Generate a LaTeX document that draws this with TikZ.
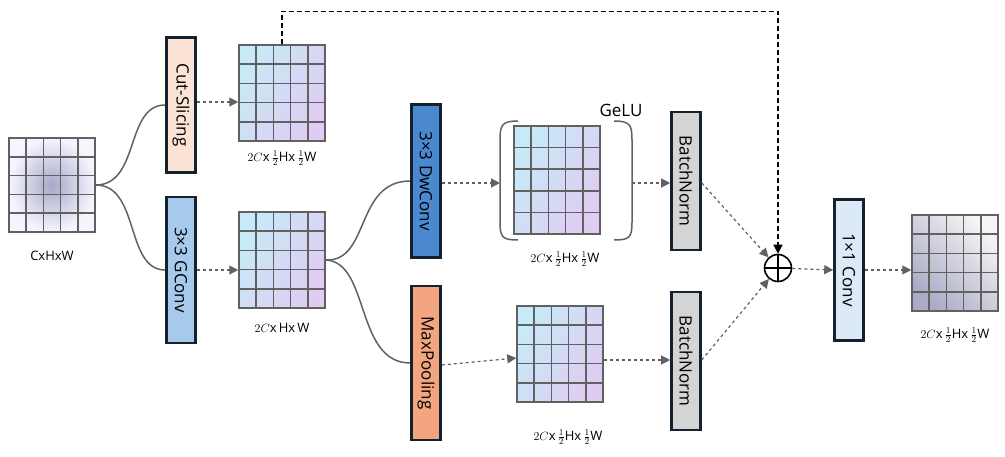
\documentclass[tikz,border=0pt]{standalone}
\usepackage{fontspec}
\setmainfont{Open Sans}
\usetikzlibrary{calc,arrows.meta}
\definecolor{cutc}{HTML}{FBE3D6}
\definecolor{gcc}{HTML}{A6C9EC}
\definecolor{dwc}{HTML}{4A88D0}
\definecolor{mpc}{HTML}{F3A57F}
\definecolor{bnc}{HTML}{D4D4D4}
\definecolor{c1c}{HTML}{DCEAF7}
\definecolor{bord}{HTML}{14212E}
\definecolor{cellA}{HTML}{C6EAF8}
\definecolor{cellB}{HTML}{E0CCF2}
\begin{document}
\begin{tikzpicture}[x=1pt,y=-1pt,
  blk/.style={draw=bord, line width=2.6pt, minimum width=29pt, inner sep=0pt, font=\fontsize{17}{17}\selectfont},
  gridcells/.style={path picture={
     \foreach \i in {1,...,4}{
       \draw[black!62,line width=1.5pt] ($(path picture bounding box.north west)!\i/5!(path picture bounding box.north east)$) -- ($(path picture bounding box.south west)!\i/5!(path picture bounding box.south east)$);
       \draw[black!62,line width=1.5pt] ($(path picture bounding box.north west)!\i/5!(path picture bounding box.south west)$) -- ($(path picture bounding box.north east)!\i/5!(path picture bounding box.south east)$);}}},
  fm/.style={draw=black!62, line width=1.5pt, inner sep=0pt, minimum width=86pt, minimum height=96pt,
     shading=axis, left color=cellA, right color=cellB, shading angle=60, gridcells},
  inp/.style={draw=black!62, line width=1.5pt, inner sep=0pt, minimum width=86pt, minimum height=94pt,
     inner color=blue!25!gray!55, outer color=gray!12!blue!4, gridcells},
  outp/.style={draw=black!62, line width=1.5pt, inner sep=0pt, minimum width=86pt, minimum height=96pt,
     shading=axis, left color=gray!8, right color=blue!20!gray!55, shading angle=-45, gridcells},
  lab/.style={font=\fontsize{13}{13}\selectfont},
  da/.style={draw=black!62, dashed, line width=1.2pt, -{Triangle[length=9pt,width=9pt]}},
  cv/.style={draw=black!62, line width=1.5pt}
]
\useasboundingbox (0,0) rectangle (1005,457);
% feature maps
\node[inp] (in) at (52,185) {};
\node[lab] (inl) at (52,256) {CxHxW};
\node[fm] (g1) at (282,93) {};
\node[lab] (g1l) at (282,158) {$2C$x\,$\frac12$Hx\,$\frac12$W};
\node[fm] (g2) at (282,260) {};
\node[lab] (g2l) at (282,328) {$2C$x\,Hx\,W};
\node[fm, minimum width=86pt, minimum height=108pt] (g3) at (557,180) {};
\node[lab] (g3l) at (565,259) {$2C$x\,$\frac12$Hx\,$\frac12$W};
\node[fm] (g4) at (560,354) {};
\node[lab] (g4l) at (568,437) {$2C$x\,$\frac12$Hx\,$\frac12$W};
\node[outp] (out) at (955,263) {};
\node[lab] (outl) at (955,335) {$2C$x\,$\frac12$Hx\,$\frac12$W};
% GeLU bracket
\draw[black!62,line width=1.5pt] (518,121) .. controls (502,121) and (500,125) .. (500,140) -- (500,222) .. controls (500,237) and (502,240) .. (518,240);
\draw[black!62,line width=1.5pt] (614,121) .. controls (630,121) and (632,125) .. (632,140) -- (632,222) .. controls (632,237) and (630,240) .. (614,240);
\coordinate (bL) at (500,183);
\coordinate (bR) at (632,183);
\node[font=\fontsize{17}{17}\selectfont] (gelu) at (621,110) {GeLU};
% blocks
\node[blk, fill=cutc, minimum height=135pt] (cut) at (181,105) {\rotatebox{-90}{Cut-Slicing}};
\node[blk, fill=gcc, minimum height=146pt] (gc) at (181,270) {\rotatebox{-90}{3×3 GConv}};
\node[blk, fill=dwc, minimum height=153pt] (dw) at (426,181) {\rotatebox{-90}{3×3 DwConv}};
\node[blk, fill=mpc, minimum height=154pt] (mp) at (426,363) {\rotatebox{-90}{MaxPooling}};
\node[blk, fill=bnc, minimum height=138pt] (bn1) at (686,181) {\rotatebox{-90}{BatchNorm}};
\node[blk, fill=bnc, minimum height=138pt] (bn2) at (686,361) {\rotatebox{-90}{BatchNorm}};
\node[blk, fill=c1c, minimum height=141pt] (c1) at (849,270) {\rotatebox{-90}{1×1 Conv}};
\node[draw=black, line width=1.6pt, circle, minimum size=27pt, inner sep=0pt] (plus) at (778,268) {};
\draw[line width=1.6pt] (plus.north) -- (plus.south) (plus.west) -- (plus.east);
% curves
\draw[cv] (in.east) .. controls (140,185) and (125,105) .. (cut.west);
\draw[cv] (in.east) .. controls (140,185) and (125,270) .. (gc.west);
\draw[cv] (g2.east) .. controls (370,262) and (355,181) .. (dw.west);
\draw[cv] (g2.east) .. controls (370,262) and (355,363) .. (mp.west);
% dashed arrows
\draw[da] (cut.east |- 0,102) -- (g1.west |- 0,102);
\draw[da] (gc.east |- 0,270) -- (g2.west |- 0,270);
\draw[da] (dw.east |- 0,183) -- (bL);
\draw[da] (mp.east |- 0,365) -- (g4.west |- 0,358);
\draw[da] (bR) -- (bn1.west |- 0,183);
\draw[da] (g4.east |- 0,360) -- (bn2.west |- 0,360);
\draw[da] (bn1.east |- 0,183) -- (plus);
\draw[da] (bn2.east |- 0,360) -- (plus);
\draw[da] (plus) -- (c1.west |- 0,270);
\draw[da] (c1.east |- 0,270) -- (out.west |- 0,270);
\draw[da, draw=black, line width=1.4pt, dash pattern=on 5pt off 3pt] (g1.north) -- ++(0,-33) -| (plus.north);
\end{tikzpicture}
\end{document}
